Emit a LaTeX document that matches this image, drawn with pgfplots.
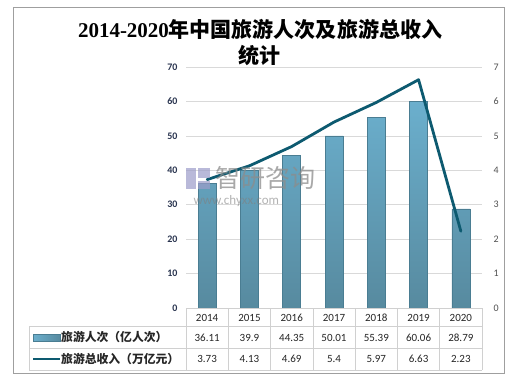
\documentclass[border=0pt]{standalone}
\usepackage{fontspec}
\setmainfont{Carlito}
\newfontfamily\cjk{Noto Sans CJK SC}
\newfontfamily\serifnum{Liberation Serif}
\usepackage{pgfplots}
\pgfplotsset{compat=1.18}
\definecolor{barTop}{HTML}{6BAFCD}
\definecolor{barBot}{HTML}{578A9F}
\definecolor{barDraw}{HTML}{4A7D92}
\definecolor{lineC}{HTML}{0D5A70}
\definecolor{gridC}{HTML}{D9D9D9}
\definecolor{tickL}{HTML}{2A3550}
\definecolor{tickC}{HTML}{505050}
\definecolor{tabC}{HTML}{D0D0D0}
\definecolor{txtC}{HTML}{262626}
\begin{document}
\begin{tikzpicture}[x=1pt,y=1pt]
\path[use as bounding box] (0,0) rectangle (510,377);
\fill[white] (0,0) rectangle (510,377);
\draw[gray!75, line width=0.9pt] (13,4) rectangle (504,370);
% title
\node[anchor=base, font=\bfseries\fontsize{21}{24}\selectfont, inner sep=0pt] at (260,339)
  {\serifnum 2014-2020\cjk 年中国旅游人次及旅游总收入};
\node[anchor=base, font=\cjk\bfseries\fontsize{21}{24}\selectfont, inner sep=0pt] at (259,313) {统计};
% bars
\begin{axis}[at={(186pt,69pt)}, anchor=south west, scale only axis,
  width=296pt, height=241pt,
  xmin=-0.5, xmax=6.5, ymin=0, ymax=70,
  ytick={0,10,...,70}, xtick=\empty,
  axis line style={draw=none}, tick style={draw=none},
  ymajorgrids, grid style={gridC, line width=0.7pt},
  yticklabel style={font=\fontsize{10}{11}\selectfont\bfseries, text=tickL, xshift=-5pt},
  /pgf/number format/assume math mode=true,
  clip=false]
\addplot[ybar, bar width=18pt, top color=barTop, bottom color=barBot, draw=barDraw, line width=0.6pt]
  coordinates {(0,36.11) (1,39.9) (2,44.35) (3,50.01) (4,55.39) (5,60.06) (6,28.79)};
\end{axis}
% line on secondary axis
\begin{axis}[at={(186pt,69pt)}, anchor=south west, scale only axis,
  width=296pt, height=241pt,
  xmin=-0.5, xmax=6.5, ymin=0, ymax=7,
  ytick={0,1,...,7}, xtick=\empty,
  axis y line*=right, axis x line=none,
  axis line style={draw=none}, tick style={draw=none},
  yticklabel style={font=\fontsize{10}{11}\selectfont, text=tickC, xshift=8pt},
  /pgf/number format/assume math mode=true,
  clip=false]
\addplot[lineC, line width=2.8pt, line join=round, line cap=round, mark=none]
  coordinates {(0,3.73) (1,4.13) (2,4.69) (3,5.4) (4,5.97) (5,6.63) (6,2.23)};
\end{axis}
% watermark
\node[anchor=west, text=gray!90, opacity=0.75, font=\cjk\fontsize{25}{27}\selectfont] at (212,199) {智研咨询};
\fill[blue!30!gray!60, opacity=0.7] (186,188) rectangle (196,209);
\fill[blue!30!gray!60, opacity=0.7] (198,199) rectangle (210,209);
\fill[blue!30!gray!60, opacity=0.7] (198,188) rectangle (210,196);
\node[anchor=west, text=gray, opacity=0.6, font=\fontsize{13}{14}\selectfont] at (190,176) {www.chyxx.com};
% data table
\begin{scope}[tabC, line width=0.7pt]
\draw (186,69) -- (482,69);
\foreach \yy in {51,29,7} \draw (29,\yy) -- (482,\yy);
\draw (29,51) -- (29,7);
\foreach \k in {0,...,7} \draw ({186+\k*296/7},69) -- ({186+\k*296/7},7);
\end{scope}
\foreach \lab [count=\i from 0] in {2014,2015,2016,2017,2018,2019,2020}
  \node[text=txtC, font=\fontsize{11}{12}\selectfont] at ({186+(\i+0.5)*296/7},59.5) {\lab};
\foreach \lab [count=\i from 0] in {36.11,39.9,44.35,50.01,55.39,60.06,28.79}
  \node[text=txtC, font=\fontsize{11}{12}\selectfont] at ({186+(\i+0.5)*296/7},39.5) {\lab};
\foreach \lab [count=\i from 0] in {3.73,4.13,4.69,5.4,5.97,6.63,2.23}
  \node[text=txtC, font=\fontsize{11}{12}\selectfont] at ({186+(\i+0.5)*296/7},18) {\lab};
% legend keys
\shade[left color=barTop, right color=barBot, draw=barDraw, line width=0.5pt] (33,36) rectangle (60,43);
\draw[lineC, line width=2.8pt] (33,18) -- (60,18);
\node[anchor=west, inner sep=0pt, text=txtC, font=\cjk\bfseries\fontsize{11.8}{13}\selectfont] at (61,39.5) {旅游人次（亿人次）};
\node[anchor=west, inner sep=0pt, text=txtC, font=\cjk\bfseries\fontsize{11.8}{13}\selectfont] at (61,18) {旅游总收入（万亿元）};
\end{tikzpicture}
\end{document}
